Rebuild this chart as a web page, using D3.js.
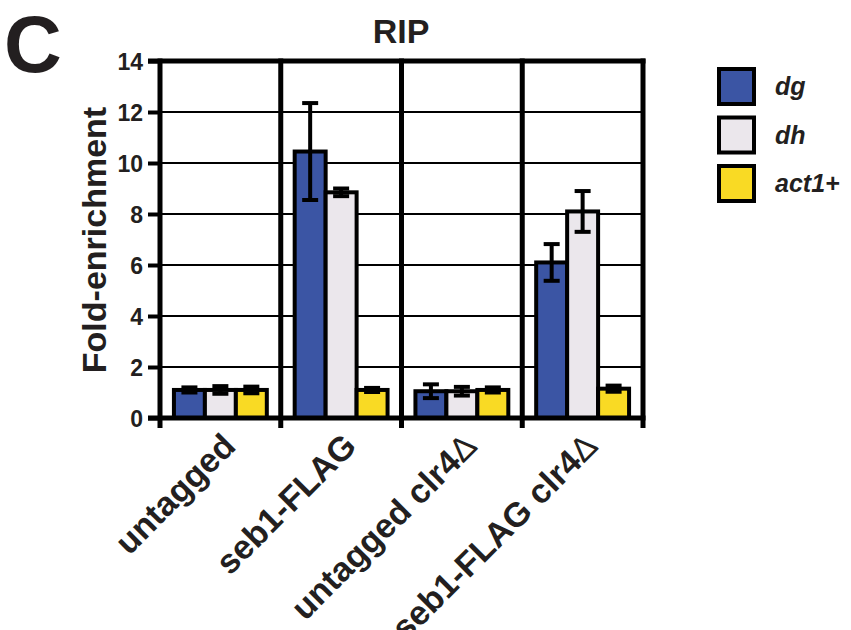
<!DOCTYPE html>
<html><head><meta charset="utf-8">
<script src="https://cdn.jsdelivr.net/npm/d3@7"></script>
<style>
body{margin:0;background:#fff}
text{font-family:"Liberation Sans",Arial,Helvetica,sans-serif;font-weight:bold;fill:#231f20}
</style>
</head><body><svg id="chart" width="851" height="630"></svg>
<script>
// Strains on the x axis
const categories = ["untagged", "seb1-FLAG", "untagged clr4\u0394", "seb1-FLAG clr4\u0394"];
// Loci measured by RIP
const series = ["dg", "dh", "act1+"];
// Mean fold-enrichment and error per locus, one value per strain
const dgValues  = [1.1, 10.45, 1.05, 6.1];
const dgErrors  = [0.1, 1.9, 0.27, 0.72];
const dhValues  = [1.1, 8.85, 1.05, 8.1];
const dhErrors  = [0.15, 0.15, 0.17, 0.8];
const actValues = [1.1, 1.1, 1.1, 1.15];
const actErrors = [0.13, 0.08, 0.1, 0.12];
const yTicks = [0, 2, 4, 6, 8, 10, 12, 14];
const colors = ["#3b55a4", "#ebe7ec", "#f9da24"];

const valueSets = [dgValues, dhValues, actValues];
const errorSets = [dgErrors, dhErrors, actErrors];

const svg = d3.select("#chart");
const plotLeft = 160, plotRight = 643, plotTop = 61, plotBottom = 418;

const x = d3.scaleBand().domain(categories).range([plotLeft, plotRight]).paddingInner(0).paddingOuter(0);
const xs = d3.scaleBand().domain(series).range([0, x.bandwidth()]).paddingInner(0).paddingOuter(0.45);
const y = d3.scaleLinear().domain([0, 14]).range([plotBottom, plotTop]);

// Horizontal grid lines
svg.append("g").selectAll("line").data(yTicks.filter(t => t > 0 && t < 14)).join("line")
  .attr("x1", plotLeft).attr("x2", plotRight).attr("y1", d => y(d)).attr("y2", d => y(d))
  .attr("stroke", "#000").attr("stroke-width", 2);

// Bars
const rows = [];
categories.forEach((c, i) => series.forEach((s, j) => rows.push({c, s, j, v: valueSets[j][i], e: errorSets[j][i]})));

svg.append("g").selectAll("rect").data(rows).join("rect")
  .attr("x", d => x(d.c) + xs(d.s))
  .attr("width", xs.bandwidth())
  .attr("y", d => y(d.v))
  .attr("height", d => y(0) - y(d.v))
  .attr("fill", d => colors[d.j])
  .attr("stroke", "#000").attr("stroke-width", 4);

// Error bars
const cx = d => x(d.c) + xs(d.s) + xs.bandwidth() / 2;
const eb = svg.append("g").attr("stroke", "#000").attr("stroke-width", 4);
eb.selectAll(".v").data(rows).join("line").attr("class", "v")
  .attr("x1", cx).attr("x2", cx)
  .attr("y1", d => y(d.v + d.e)).attr("y2", d => y(d.v - d.e));
eb.selectAll(".t").data(rows).join("line").attr("class", "t")
  .attr("x1", d => cx(d) - 8).attr("x2", d => cx(d) + 8)
  .attr("y1", d => y(d.v + d.e)).attr("y2", d => y(d.v + d.e));
eb.selectAll(".b").data(rows).join("line").attr("class", "b")
  .attr("x1", d => cx(d) - 8).attr("x2", d => cx(d) + 8)
  .attr("y1", d => y(d.v - d.e)).attr("y2", d => y(d.v - d.e));

// Group separators and frame
const bounds = categories.map(c => x(c) + x.bandwidth());
svg.append("g").selectAll("line").data(bounds).join("line")
  .attr("x1", d => d).attr("x2", d => d).attr("y1", plotTop - 2.5).attr("y2", plotBottom + 10)
  .attr("stroke", "#000").attr("stroke-width", 5);
svg.append("line").attr("x1", plotLeft - 12).attr("x2", plotRight + 2.5).attr("y1", plotTop).attr("y2", plotTop)
  .attr("stroke", "#000").attr("stroke-width", 5);
svg.append("line").attr("x1", plotLeft - 12).attr("x2", plotRight + 2.5).attr("y1", plotBottom).attr("y2", plotBottom)
  .attr("stroke", "#000").attr("stroke-width", 5);

// Y axis
const yAxis = svg.append("g").attr("transform", `translate(${plotLeft},0)`)
  .call(d3.axisLeft(y).tickValues(yTicks).tickSize(12).tickPadding(5).tickSizeOuter(0));
yAxis.select(".domain").remove();
yAxis.selectAll(".tick line").attr("stroke", "#000").attr("stroke-width", 4);
yAxis.selectAll(".tick text").attr("font-size", 23).attr("fill", "#231f20").attr("dy", "0.36em");
svg.append("line").attr("x1", plotLeft).attr("x2", plotLeft).attr("y1", plotTop - 2.5).attr("y2", plotBottom + 10)
  .attr("stroke", "#000").attr("stroke-width", 5);

// X category labels; the delta sign is set in a lighter weight
const xLabels = svg.append("g").selectAll("text").data(categories).join("text")
  .attr("transform", d => `translate(${x(d) + x.bandwidth() / 2 + 17},${plotBottom + 30}) rotate(-45)`)
  .attr("text-anchor", "end").attr("font-size", 34);
xLabels.each(function(d) {
  const t = d3.select(this);
  const parts = d.split("\u0394");
  t.append("tspan").text(parts[0]);
  if (parts.length > 1) t.append("tspan").attr("font-weight", "normal").text("\u0394");
});

// Axis title
svg.append("text").attr("transform", "translate(106,240) rotate(-90)")
  .attr("text-anchor", "middle").attr("font-size", 34).text("Fold-enrichment");

// Chart title and panel letter
svg.append("text").attr("x", 401).attr("y", 43).attr("text-anchor", "middle").attr("font-size", 34).text("RIP");
svg.append("text").attr("x", 4).attr("y", 72).attr("font-size", 80).text("C");

// Legend
const lg = svg.append("g").selectAll("g").data(series).join("g")
  .attr("transform", (d, i) => `translate(719,${69 + i * 48.5})`);
lg.append("rect").attr("width", 35).attr("height", 35)
  .attr("fill", (d, i) => colors[i]).attr("stroke", "#000").attr("stroke-width", 4);
lg.append("text").attr("x", 56).attr("y", 26).attr("font-size", 25).attr("font-style", "italic").text(d => d);
</script>
</body></html>
